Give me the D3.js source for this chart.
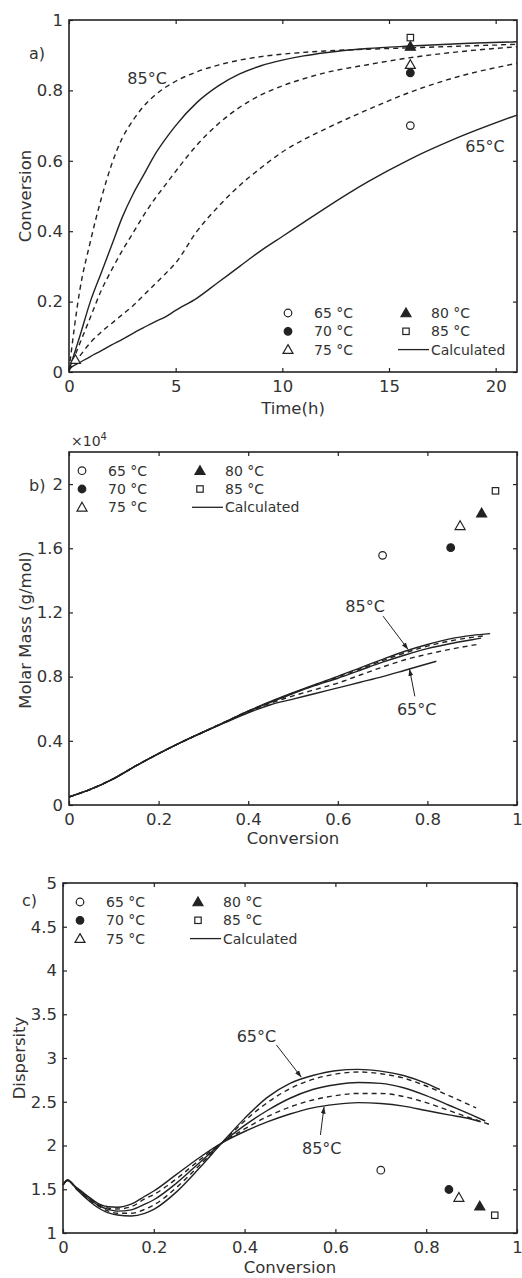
<!DOCTYPE html>
<html>
<head>
<meta charset="utf-8">
<script src="https://cdn.jsdelivr.net/npm/d3@7"></script>
<style>
body { margin: 0; background: #fff; }
svg text { font-family: "DejaVu Sans", sans-serif; fill: #333; }
</style>
</head>
<body>
<div id="vis"></div>
<script>
// ---------- data ----------
var temps = ["65 °C", "70 °C", "75 °C", "80 °C", "85 °C"];
var symbols = ["circle", "circleFill", "tri", "triFill", "square"];

// a) conversion vs time
var timeA = [0, 0.5, 1, 1.5, 2, 2.5, 3, 3.5, 4, 4.5, 5, 6, 7, 8, 9, 10, 11, 12, 14, 16, 18, 21];
var convA65 = [0.01, 0.027, 0.044, 0.06, 0.077, 0.093, 0.11, 0.126, 0.142, 0.156, 0.175, 0.21, 0.255, 0.30, 0.345, 0.385, 0.425, 0.465, 0.54, 0.605, 0.66, 0.73];
var convA70 = [0.005, 0.045, 0.083, 0.113, 0.138, 0.163, 0.188, 0.218, 0.248, 0.278, 0.31, 0.40, 0.47, 0.53, 0.58, 0.625, 0.66, 0.69, 0.745, 0.795, 0.835, 0.877];
var convA75 = [0.005, 0.08, 0.155, 0.23, 0.29, 0.345, 0.395, 0.445, 0.49, 0.53, 0.57, 0.645, 0.705, 0.752, 0.787, 0.813, 0.833, 0.85, 0.873, 0.893, 0.908, 0.924];
var convA80 = [0.005, 0.1, 0.2, 0.28, 0.36, 0.44, 0.505, 0.56, 0.615, 0.66, 0.70, 0.766, 0.813, 0.847, 0.87, 0.886, 0.898, 0.907, 0.919, 0.926, 0.932, 0.938];
var convA85 = [0.005, 0.23, 0.37, 0.49, 0.59, 0.665, 0.715, 0.755, 0.785, 0.808, 0.826, 0.853, 0.872, 0.886, 0.896, 0.903, 0.908, 0.912, 0.917, 0.921, 0.925, 0.931];
var timeExpA = [16, 16, 16, 16, 16];
var convExpA = [0.70, 0.85, 0.873, 0.925, 0.95];
// early 75 °C point near the origin
var timeEarlyA = [0.3];
var convEarlyA = [0.035];

// b) molar mass (x1e4) vs conversion
var molarB65 = [[0,0.05],[0.05,0.1],[0.1,0.165],[0.15,0.245],[0.2,0.32],[0.25,0.39],[0.3,0.455],[0.35,0.515],[0.4,0.575],[0.45,0.625],[0.5,0.66],[0.55,0.695],[0.6,0.73],[0.65,0.765],[0.7,0.80],[0.75,0.84],[0.82,0.896]];
var molarB70 = [[0,0.05],[0.05,0.1],[0.1,0.165],[0.15,0.245],[0.2,0.32],[0.25,0.39],[0.3,0.455],[0.35,0.52],[0.4,0.58],[0.45,0.635],[0.5,0.68],[0.55,0.72],[0.6,0.76],[0.65,0.81],[0.7,0.86],[0.75,0.905],[0.8,0.94],[0.85,0.97],[0.91,1.0]];
var molarB75 = [[0,0.05],[0.05,0.1],[0.1,0.165],[0.15,0.245],[0.2,0.32],[0.25,0.39],[0.3,0.455],[0.35,0.52],[0.4,0.585],[0.45,0.64],[0.5,0.695],[0.55,0.745],[0.6,0.79],[0.65,0.84],[0.7,0.89],[0.75,0.935],[0.8,0.975],[0.85,1.005],[0.9,1.03],[0.92,1.04]];
var molarB80 = [[0,0.05],[0.05,0.1],[0.1,0.165],[0.15,0.245],[0.2,0.32],[0.25,0.39],[0.3,0.455],[0.35,0.52],[0.4,0.585],[0.45,0.645],[0.5,0.70],[0.55,0.752],[0.6,0.802],[0.65,0.855],[0.7,0.908],[0.75,0.958],[0.8,1.0],[0.85,1.035],[0.9,1.057],[0.94,1.068]];
var molarB85 = [[0,0.05],[0.05,0.1],[0.1,0.165],[0.15,0.245],[0.2,0.32],[0.25,0.39],[0.3,0.455],[0.35,0.52],[0.4,0.585],[0.45,0.643],[0.5,0.698],[0.55,0.748],[0.6,0.797],[0.65,0.848],[0.7,0.9],[0.75,0.948],[0.8,0.99],[0.85,1.022],[0.9,1.045],[0.93,1.055]];
var convExpB = [0.70, 0.852, 0.873, 0.921, 0.952];
var molarExpB = [1.556, 1.604, 1.74, 1.819, 1.958];

// c) dispersity vs conversion
var dispC65 = [[0,1.55],[0.01,1.61],[0.03,1.5],[0.05,1.4],[0.08,1.28],[0.1,1.23],[0.12,1.205],[0.15,1.195],[0.18,1.225],[0.2,1.27],[0.25,1.47],[0.3,1.74],[0.35,2.03],[0.4,2.31],[0.45,2.55],[0.5,2.71],[0.55,2.80],[0.6,2.855],[0.65,2.87],[0.7,2.85],[0.75,2.8],[0.8,2.71],[0.83,2.64]];
var dispC70 = [[0,1.55],[0.01,1.6],[0.03,1.5],[0.05,1.41],[0.08,1.3],[0.1,1.25],[0.12,1.225],[0.15,1.225],[0.18,1.27],[0.2,1.32],[0.25,1.52],[0.3,1.77],[0.35,2.03],[0.4,2.28],[0.45,2.49],[0.5,2.65],[0.55,2.755],[0.6,2.815],[0.65,2.84],[0.7,2.82],[0.75,2.77],[0.8,2.68],[0.85,2.57],[0.91,2.43]];
var dispC75 = [[0,1.55],[0.01,1.6],[0.03,1.51],[0.05,1.42],[0.08,1.31],[0.1,1.27],[0.12,1.25],[0.15,1.265],[0.18,1.33],[0.2,1.38],[0.25,1.57],[0.3,1.8],[0.35,2.03],[0.4,2.23],[0.45,2.4],[0.5,2.54],[0.55,2.64],[0.6,2.695],[0.65,2.72],[0.7,2.71],[0.75,2.66],[0.8,2.57],[0.85,2.46],[0.9,2.35],[0.93,2.28]];
var dispC80 = [[0,1.55],[0.01,1.6],[0.03,1.51],[0.05,1.43],[0.08,1.32],[0.1,1.285],[0.12,1.275],[0.15,1.3],[0.18,1.39],[0.2,1.44],[0.25,1.62],[0.3,1.83],[0.35,2.03],[0.4,2.19],[0.45,2.33],[0.5,2.44],[0.55,2.52],[0.6,2.57],[0.65,2.595],[0.7,2.595],[0.75,2.56],[0.8,2.49],[0.85,2.4],[0.9,2.31],[0.94,2.24]];
var dispC85 = [[0,1.55],[0.01,1.6],[0.03,1.52],[0.05,1.44],[0.08,1.33],[0.1,1.3],[0.12,1.295],[0.15,1.33],[0.18,1.42],[0.2,1.48],[0.25,1.67],[0.3,1.86],[0.35,2.03],[0.4,2.16],[0.45,2.27],[0.5,2.36],[0.55,2.43],[0.6,2.47],[0.65,2.49],[0.7,2.48],[0.75,2.45],[0.8,2.4],[0.85,2.35],[0.9,2.3],[0.92,2.27]];
var convExpC = [0.70, 0.85, 0.872, 0.918, 0.951];
var dispExpC = [1.718, 1.497, 1.405, 1.306, 1.203];

var ink = "#222";

var svg = d3.select("#vis")
    .append("svg")
    .attr("width", 522)
    .attr("height", 1278);

svg.append("defs").append("marker")
    .attr("id", "arr")
    .attr("viewBox", "0 0 10 10")
    .attr("refX", 10).attr("refY", 5)
    .attr("markerWidth", 7).attr("markerHeight", 7)
    .attr("orient", "auto")
  .append("path")
    .attr("d", "M0,1.5 L10,5 L0,8.5 z")
    .attr("fill", ink);

// draw one symbol at (cx, cy)
function drawSymbol(g, kind, cx, cy) {
    if (kind == "circle" || kind == "circleFill") {
        g.append("circle").attr("cx", cx).attr("cy", cy).attr("r", 3.8)
          .attr("fill", kind == "circleFill" ? ink : "#fff")
          .attr("stroke", ink).attr("stroke-width", 1.2);
    } else if (kind == "tri" || kind == "triFill") {
        var s = 5;
        g.append("path")
          .attr("d", "M" + cx + "," + (cy - s) + "L" + (cx + s) + "," + (cy + s * 0.75) + "L" + (cx - s) + "," + (cy + s * 0.75) + "Z")
          .attr("fill", kind == "triFill" ? ink : "#fff")
          .attr("stroke", ink).attr("stroke-width", 1.2);
    } else {
        g.append("rect").attr("x", cx - 3.2).attr("y", cy - 3.2).attr("width", 6.4).attr("height", 6.4)
          .attr("fill", "#fff").attr("stroke", ink).attr("stroke-width", 1.2);
    }
}

// frame with inward ticks on all four sides
function frame(g, x, y, xTicks, yTicks, xFmt, yFmt) {
    var w = x.range()[1] - x.range()[0];
    var h = y.range()[0] - y.range()[1];
    g.append("g")
        .attr("transform", "translate(0," + y.range()[0] + ")")
        .call(d3.axisBottom(x).tickValues(xTicks).tickFormat(xFmt).tickSize(-4).tickPadding(8));
    g.append("g")
        .attr("transform", "translate(0," + y.range()[1] + ")")
        .call(d3.axisTop(x).tickValues(xTicks).tickFormat("").tickSize(-4));
    g.append("g")
        .attr("transform", "translate(" + x.range()[0] + ",0)")
        .call(d3.axisLeft(y).tickValues(yTicks).tickFormat(yFmt).tickSize(-4).tickPadding(6));
    g.append("g")
        .attr("transform", "translate(" + x.range()[1] + ",0)")
        .call(d3.axisRight(y).tickValues(yTicks).tickFormat("").tickSize(-4));
    g.selectAll(".domain").remove();
    g.selectAll(".tick line").attr("stroke", ink).attr("stroke-width", 1.2);
    g.selectAll(".tick text").style("font-size", "16.5px").attr("fill", "#333");
    g.append("rect")
        .attr("x", x.range()[0]).attr("y", y.range()[1])
        .attr("width", w).attr("height", h)
        .attr("fill", "none").attr("stroke", ink).attr("stroke-width", 1.6);
}

function drawCurves(g, x, y, series) {
    var line = d3.line()
        .x(d => x(d[0]))
        .y(d => y(d[1]))
        .curve(d3.curveMonotoneX);
    g.selectAll("path.curve")
        .data(series)
        .join("path")
        .attr("class", "curve")
        .attr("d", d => line(d.pts))
        .attr("fill", "none")
        .attr("stroke", ink)
        .attr("stroke-width", 1.4)
        .attr("stroke-dasharray", d => d.dash ? "5,4" : null);
}

function drawExp(g, x, y, xs, ys) {
    xs.forEach(function(v, i) { drawSymbol(g, symbols[i], x(v), y(ys[i])); });
}

function legend(g, x0, y0) {
    var rows = [0, 18.3, 36.6];
    var col = [[x0, x0 + 26], [x0 + 118, x0 + 143]];
    temps.forEach(function(t, i) {
        var c = i < 3 ? 0 : 1;
        var r = i < 3 ? i : i - 3;
        drawSymbol(g, symbols[i], col[c][0], y0 + rows[r]);
        g.append("text").attr("x", col[c][1]).attr("y", y0 + rows[r]).attr("dy", "0.35em")
          .style("font-size", "14px").text(t);
    });
    g.append("line").attr("x1", col[1][0] - 8).attr("x2", col[1][1] - 2)
        .attr("y1", y0 + rows[2]).attr("y2", y0 + rows[2])
        .attr("stroke", ink).attr("stroke-width", 1.3);
    g.append("text").attr("x", col[1][1]).attr("y", y0 + rows[2]).attr("dy", "0.35em")
        .style("font-size", "14px").text("Calculated");
}

function note(g, txt, tx, ty, ax, ay, bx, by) {
    g.append("text").attr("x", tx).attr("y", ty).attr("dy", "0.35em")
        .attr("text-anchor", "middle").style("font-size", "16px").text(txt);
    if (ax != null) {
        g.append("line").attr("x1", ax).attr("y1", ay).attr("x2", bx).attr("y2", by)
            .attr("stroke", ink).attr("stroke-width", 1)
            .attr("marker-end", "url(#arr)");
    }
}

function yLabel(g, txt, cx, cy) {
    g.append("text").attr("transform", "translate(" + cx + "," + cy + ") rotate(-90)")
        .attr("text-anchor", "middle").attr("dy", "0.35em")
        .style("font-size", "16.5px").text(txt);
}
function xLabel(g, txt, cx, cy) {
    g.append("text").attr("x", cx).attr("y", cy).attr("dy", "0.35em")
        .attr("text-anchor", "middle").style("font-size", "16.5px").text(txt);
}

var fmt = d => d == 0 ? "0" : d3.format("~g")(d);

// ---------- panel a ----------
var ga = svg.append("g");
var xa = d3.scaleLinear().domain([0, 21]).range([69, 517]);
var ya = d3.scaleLinear().domain([0, 1]).range([372, 20]);
var zipA = ys => timeA.map((t, i) => [t, ys[i]]);
drawCurves(ga, xa, ya, [
    {pts: zipA(convA65), dash: false},
    {pts: zipA(convA70), dash: true},
    {pts: zipA(convA75), dash: true},
    {pts: zipA(convA80), dash: false},
    {pts: zipA(convA85), dash: true}
]);
drawExp(ga, xa, ya, timeExpA, convExpA);
drawSymbol(ga, "tri", xa(timeEarlyA[0]), ya(convEarlyA[0]));
frame(ga, xa, ya, [0, 5, 10, 15, 20], [0, 0.2, 0.4, 0.6, 0.8, 1], fmt, fmt);
legend(ga, 288, 313);
note(ga, "85°C", xa(3.66), ya(0.835));
note(ga, "65°C", xa(19.5), ya(0.642));
ga.append("text").attr("x", 29).attr("y", 53).attr("dy", "0.35em").style("font-size", "16px").text("a)");
yLabel(ga, "Conversion", 25, 196);
xLabel(ga, "Time(h)", 293, 408);

// ---------- panel b ----------
var gb = svg.append("g");
var xb = d3.scaleLinear().domain([0, 1]).range([69, 517]);
var yb = d3.scaleLinear().domain([0, 2.2]).range([805, 452]);
drawCurves(gb, xb, yb, [
    {pts: molarB65, dash: false},
    {pts: molarB70, dash: true},
    {pts: molarB75, dash: false},
    {pts: molarB80, dash: false},
    {pts: molarB85, dash: true}
]);
drawExp(gb, xb, yb, convExpB, molarExpB);
frame(gb, xb, yb, [0, 0.2, 0.4, 0.6, 0.8, 1], [0, 0.4, 0.8, 1.2, 1.6, 2], fmt, fmt);
legend(gb, 82, 470.7);
note(gb, "85°C", xb(0.661), yb(1.24), xb(0.701), yb(1.177), xb(0.757), yb(0.969));
note(gb, "65°C", xb(0.776), yb(0.594), xb(0.772), yb(0.677), xb(0.76), yb(0.848));
gb.append("text").attr("x", 29).attr("y", 485).attr("dy", "0.35em").style("font-size", "16px").text("b)");
var mult = gb.append("text").attr("x", 71).attr("y", 446).style("font-size", "14px");
mult.append("tspan").text("×10");
mult.append("tspan").attr("dy", -6).style("font-size", "10px").text("4");
yLabel(gb, "Molar Mass (g/mol)", 25, 630);
xLabel(gb, "Conversion", 293, 838);

// ---------- panel c ----------
var gc = svg.append("g");
var xc = d3.scaleLinear().domain([0, 1]).range([63, 517]);
var yc = d3.scaleLinear().domain([1, 5]).range([1233, 883]);
drawCurves(gc, xc, yc, [
    {pts: dispC65, dash: false},
    {pts: dispC70, dash: true},
    {pts: dispC75, dash: false},
    {pts: dispC80, dash: true},
    {pts: dispC85, dash: false}
]);
drawExp(gc, xc, yc, convExpC, dispExpC);
frame(gc, xc, yc, [0, 0.2, 0.4, 0.6, 0.8, 1], [1, 1.5, 2, 2.5, 3, 3.5, 4, 4.5, 5], fmt, fmt);
legend(gc, 80, 902);
note(gc, "65°C", xc(0.426), yc(3.245), xc(0.47), yc(3.15), xc(0.525), yc(2.78));
note(gc, "85°C", xc(0.57), yc(1.967), xc(0.567), yc(2.12), xc(0.575), yc(2.443));
gc.append("text").attr("x", 22).attr("y", 900).attr("dy", "0.35em").style("font-size", "16px").text("c)");
yLabel(gc, "Dispersity", 19, 1058);
xLabel(gc, "Conversion", 290, 1267);
</script>
</body>
</html>
